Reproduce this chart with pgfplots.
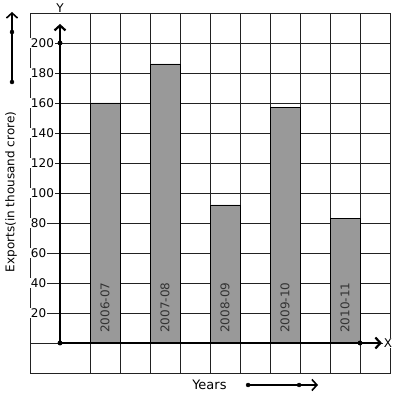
\documentclass[border=0pt]{standalone}
\usepackage{pgfplots}
\pgfplotsset{compat=1.18}
\usepackage{fontspec}
\setmainfont{DejaVu Sans}
\usetikzlibrary{arrows.meta}
\definecolor{barc}{HTML}{999999}
\definecolor{gridc}{HTML}{222222}
\begin{document}
\begin{tikzpicture}
\path[use as bounding box] (0,0) rectangle (397pt,399pt);
\begin{axis}[
 at={(30pt,26pt)}, anchor=south west,
 scale only axis, width=360pt, height=360pt,
 xmin=-1,xmax=11,ymin=-20,ymax=220,
 axis line style={gridc, line width=0.9pt},
 xtick={1,...,10}, xticklabels={},
 ytick={20,40,...,200},
 major tick length=0pt,
 grid=major, major grid style={gridc, line width=0.9pt},
 yticklabel style={anchor=west, fill=white, inner sep=0.8pt, font=\fontsize{12}{14}\selectfont},
 /pgf/number format/assume math mode=true,
 clip=false,
 font=\fontsize{12}{14}\selectfont,
]
% grid line at zero
\draw[gridc, line width=0.9pt] (axis cs:-1,0) -- (axis cs:11,0);
% bars
\addplot[ybar, bar width=30pt, fill=barc, draw=black, line width=0.9pt]
 coordinates {(1.5,160) (3.5,186) (5.5,92) (7.5,157) (9.5,83)};
% axes
\addplot[black, line width=2.2pt, -{Straight Barb[length=5pt,width=11pt]}] coordinates {(0,0) (0,212.7)};
\addplot[black, line width=2.2pt, -{Straight Barb[length=5pt,width=11pt]}] coordinates {(0,0) (10.73,0)};
\addplot[only marks, mark=*, mark size=2.2pt, black] coordinates {(0,0) (0,200) (10,0)};
% decorative arrows
\addplot[black, line width=1.6pt, -{Straight Barb[length=5pt,width=11pt]}] coordinates {(-1.6,174) (-1.6,220.7)};
\addplot[only marks, mark=*, mark size=2pt, black] coordinates {(-1.6,174) (-1.6,207.3)};
\addplot[black, line width=1.6pt, -{Straight Barb[length=5pt,width=11pt]}] coordinates {(6.27,-28) (8.6,-28)};
\addplot[only marks, mark=*, mark size=2pt, black] coordinates {(6.27,-28) (7.97,-28)};
% labels
\node[fill=white, inner sep=1pt] at (axis cs:0,223.3) {Y};
\node[fill=white, inner sep=1pt] at (axis cs:10.93,0) {X};
\node[font=\fontsize{13}{15}\selectfont] at (axis cs:4.98,-28) {Years};
\node[rotate=90] at (axis cs:-1.63,100.7) {Exports(in thousand crore)};
\node[rotate=90, anchor=west, inner sep=0pt, text=black!80] at (axis cs:1.5,6.7) {2006-07};
\node[rotate=90, anchor=west, inner sep=0pt, text=black!80] at (axis cs:3.5,6.7) {2007-08};
\node[rotate=90, anchor=west, inner sep=0pt, text=black!80] at (axis cs:5.5,6.7) {2008-09};
\node[rotate=90, anchor=west, inner sep=0pt, text=black!80] at (axis cs:7.5,6.7) {2009-10};
\node[rotate=90, anchor=west, inner sep=0pt, text=black!80] at (axis cs:9.5,6.7) {2010-11};
\end{axis}
\end{tikzpicture}
\end{document}
